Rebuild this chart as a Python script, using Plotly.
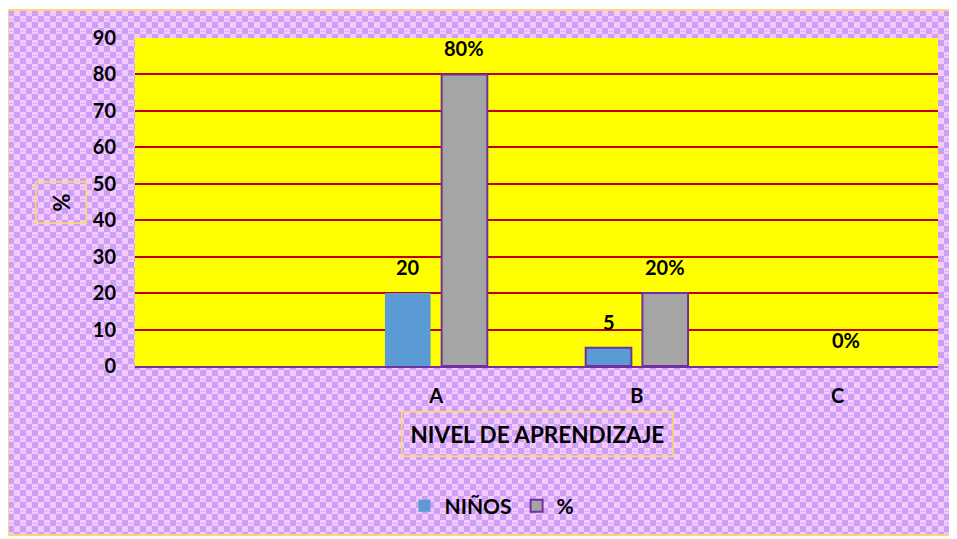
import base64
import plotly.graph_objects as go

# datos
niveles = ["", "A", "B", "C"]
ninos = [None, 20, 5, 0]
porcentaje = [None, 80, 20, 0]
ninos_txt = ["", "20", "5", ""]
porc_txt = ["", "80%", "20%", "0%"]

# the page body adds an 8px margin, so work in page pixels minus 8
OFF = 8
W, H = 957 - OFF, 539 - OFF
L, R, T, B = 135 - OFF, 19, 38 - OFF, 173
pw, ph = W - L - R, H - T - B


def px_x(x):
    return (x - OFF - L) / pw


def px_y(y):
    return (H - B - (y - OFF)) / ph


# fondo cuadriculado
svg = (
    '<svg xmlns="http://www.w3.org/2000/svg" width="942" height="525">'
    '<defs><pattern id="p" width="12" height="12" patternUnits="userSpaceOnUse">'
    '<rect width="12" height="12" fill="#f5c8ff"/>'
    '<rect width="6" height="6" fill="#cb9ff4"/>'
    '<rect x="6" y="6" width="6" height="6" fill="#cb9ff4"/>'
    '<rect x="1" y="9" width="4" height="1" fill="#dcb0f8"/>'
    '</pattern></defs>'
    '<rect width="942" height="525" fill="url(#p)"/></svg>'
)
src = "data:image/svg+xml;base64," + base64.b64encode(svg.encode()).decode()

x = list(range(len(niveles)))

fig = go.Figure()
fig.add_trace(go.Bar(
    x=x, y=ninos, name="NIÑOS",
    marker=dict(color="#5b9bd5", line=dict(color="#7030a0", width=[0, 0, 2, 0])),
))
fig.add_trace(go.Bar(
    x=x, y=porcentaje, name="%",
    marker=dict(color="#a5a5a5", line=dict(color="#7030a0", width=[2, 2, 2, 0])),
))

anns = []
for i in x:
    if ninos_txt[i]:
        anns.append(dict(x=i, y=ninos[i], text=ninos_txt[i], xshift=-28, yshift=12,
                         yanchor="bottom", showarrow=False))
    if porc_txt[i]:
        anns.append(dict(x=i, y=porcentaje[i], text=porc_txt[i], xshift=28 if porcentaje[i] else 8,
                         yshift=12, yanchor="bottom", showarrow=False))

anns.append(dict(xref="paper", yref="paper", x=px_x(61), y=px_y(203), text="%",
                 xanchor="center", yanchor="middle",
                 textangle=-90, showarrow=False, font=dict(size=22),
                 bordercolor="#ffd966", borderwidth=1.5, borderpad=11))
anns.append(dict(xref="paper", yref="paper", x=px_x(537), y=px_y(434),
                 xanchor="center", yanchor="middle",
                 text="NIVEL DE APRENDIZAJE", showarrow=False, font=dict(size=22.5),
                 bordercolor="#ffd966", borderwidth=1.5, borderpad=8))

fig.update_layout(
    width=W, height=H,
    margin=dict(l=L, r=R, t=T, b=B),
    paper_bgcolor="white",
    plot_bgcolor="rgba(0,0,0,0)",
    font=dict(family="Lato", size=20, color="black", weight="bold"),
    barmode="group", bargap=0.435, bargroupgap=0.195,
    annotations=anns,
    images=[dict(source=src, xref="paper", yref="paper", x=px_x(8), y=px_y(10),
                 sizex=px_x(950) - px_x(8), sizey=px_y(10) - px_y(535),
                 sizing="stretch", layer="below", xanchor="left", yanchor="top")],
    shapes=[
        dict(type="rect", xref="x domain", yref="y domain", x0=0, x1=1, y0=0, y1=1,
             fillcolor="#ffff00", line=dict(width=0), layer="below"),
        dict(type="rect", xref="paper", yref="paper", x0=px_x(8), x1=px_x(950),
             y0=px_y(535), y1=px_y(10), line=dict(color="#ffd27f", width=2)),
    ],
    legend=dict(orientation="h", x=px_x(492), xanchor="center", y=px_y(506),
                yanchor="middle", font=dict(size=21), bgcolor="rgba(0,0,0,0)",
                itemwidth=30),
    showlegend=True,
)
fig.update_xaxes(tickvals=x, ticktext=niveles, range=[-0.5, len(x) - 0.5],
                 showgrid=False, showline=True, linecolor="#7030a0", linewidth=2,
                 ticks="", ticklabelstandoff=11)
fig.update_yaxes(range=[0, 90], dtick=10, showgrid=True, gridcolor="#c00000",
                 gridwidth=1.5, zeroline=False, ticks="", ticklabelstandoff=18)

fig.write_html("out.html")
